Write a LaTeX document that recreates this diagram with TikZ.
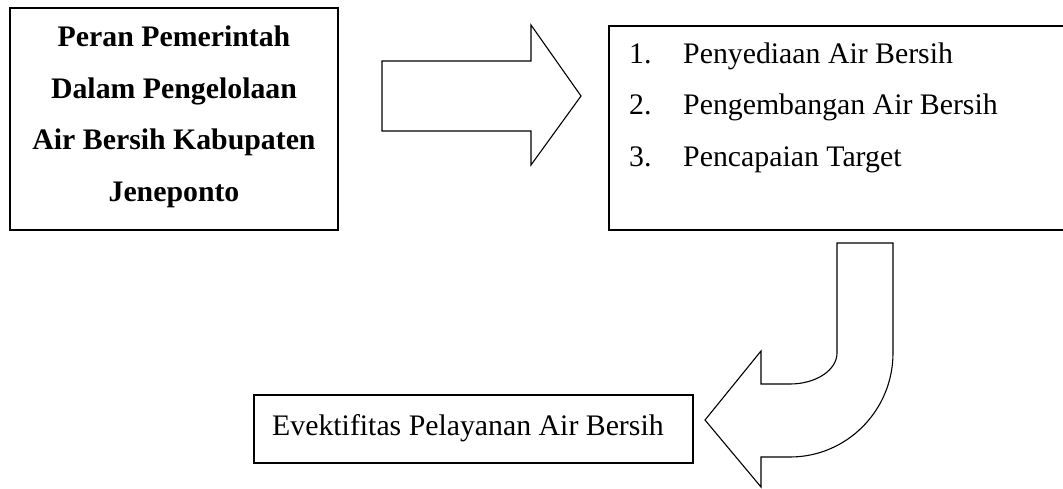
\documentclass[tikz,border=0pt]{standalone}
\usepackage{fontspec}
\setmainfont{Liberation Serif}
\begin{document}
\begin{tikzpicture}[x=1pt,y=-1pt,
  boxline/.style={draw=black,line width=1.6pt},
  arrowline/.style={draw=black,line width=1.1pt,line join=miter,fill=white},
  bigbold/.style={inner sep=0pt,anchor=base,font=\fontsize{29.8}{36}\selectfont\bfseries},
  bigtext/.style={inner sep=0pt,anchor=base west,font=\fontsize{29.8}{36}\selectfont}]
\useasboundingbox (0,0) rectangle (1063,489);
\clip (0,0) rectangle (1063,489);
% boxes
\draw[boxline] (10,8) rectangle (338,230);
\draw[boxline] (609,26) rectangle (1075,230);
\draw[boxline] (254,395) rectangle (693,463);
% left box text
\node[bigbold] (l1) at (174,46.7) {Peran Pemerintah};
\node[bigbold] (l2) at (174,98.3) {Dalam Pengelolaan};
\node[bigbold] (l3) at (174,150) {Air Bersih Kabupaten};
\node[bigbold] (l4) at (174,201.7) {Jeneponto};
% right box list
\node[bigtext] (n1) at (629,63.3) {1.};
\node[bigtext] (t1) at (683,63.3) {Penyediaan Air Bersih};
\node[bigtext] (n2) at (629,115) {2.};
\node[bigtext] (t2) at (683,115) {Pengembangan Air Bersih};
\node[bigtext] (n3) at (629,166.7) {3.};
\node[bigtext] (t3) at (683,166.7) {Pencapaian Target};
% bottom box text
\node[bigtext] (b1) at (272,435) {Evektifitas Pelayanan Air Bersih};
% right block arrow
\draw[arrowline] (382,61) -- (531,61) -- (531,25) -- (581,96) -- (531,165) -- (531,131) -- (382,131) -- cycle;
% U-turn block arrow
\draw[arrowline] (837,243) -- (893,243) -- (893,353)
  .. controls (893,410.4) and (846.9,457) .. (790,457)
  -- (761,457) -- (761,487) -- (705,420) -- (761,351) -- (761,384) -- (790,384)
  .. controls (816,384) and (837,370.1) .. (837,353) -- cycle;
\end{tikzpicture}
\end{document}
